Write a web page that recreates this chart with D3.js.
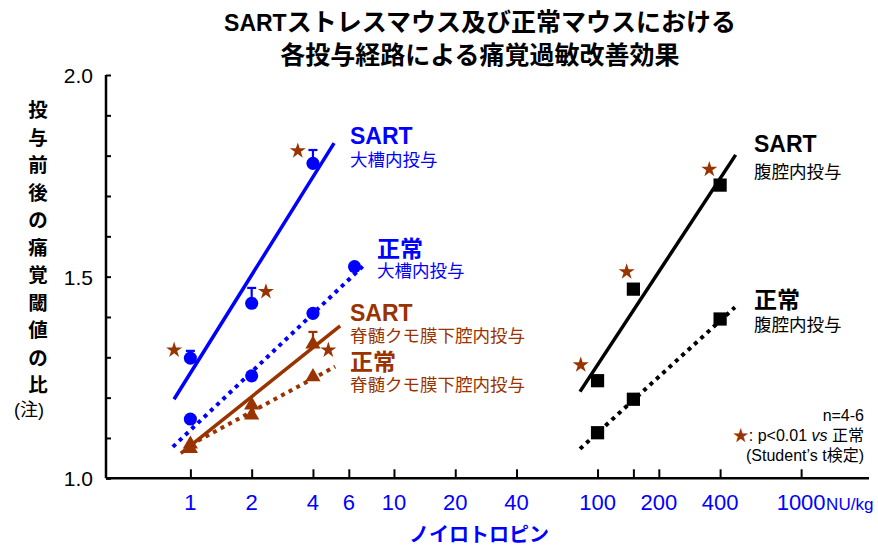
<!DOCTYPE html>
<html>
<head>
<meta charset="utf-8">
<script src="https://cdn.jsdelivr.net/npm/d3@7"></script>
<style>
  html, body { margin: 0; padding: 0; background: #fff; }
  svg { display: block; }
  text { font-family: "Liberation Sans", Arial, "Noto Sans CJK JP", sans-serif; }
</style>
</head>
<body>
<svg id="chart" width="878" height="546"></svg>
<script>
// Dose (NU/kg) ticks on the log axis
const doseTicks = [1, 2, 4, 6, 10, 20, 40, 100, 150, 200, 400, 1000];
const doseTickLabels = ["1", "2", "4", "6", "10", "20", "40", "100", "", "200", "400", "1000"];
// Ratio ticks
const ratioTicks = [1.0, 1.1, 1.2, 1.3, 1.4, 1.5, 1.6, 1.7, 1.8, 1.9, 2.0];
const ratioTickLabels = ["1.0", "", "", "", "", "1.5", "", "", "", "", "2.0"];

// Intracisternal (大槽内投与)
const sartCisDose = [1, 2, 4];
const sartCisValue = [1.298, 1.434, 1.781];
const sartCisErr = [0.018, 0.038, 0.033];
const sartCisFit = [[0.831, 1.196], [5.08, 1.831]];

const normCisDose = [1, 2, 4, 6.4];
const normCisValue = [1.147, 1.254, 1.409, 1.525];
const normCisErr = [0, 0, 0, 0];
const normCisFit = [[0.82, 1.078], [7.21, 1.531]];

// Intrathecal (脊髄クモ膜下腔内投与)
const sartItDose = [1, 2, 4];
const sartItValue = [1.087, 1.184, 1.335];
const sartItErr = [0, 0, 0.028];
const sartItFit = [[0.897, 1.062], [5.44, 1.378]];

const normItDose = [1, 2, 4];
const normItValue = [1.076, 1.159, 1.254];
const normItErr = [0, 0, 0];
const normItFit = [[1.0, 1.083], [5.14, 1.277]];

// Intraperitoneal (腹腔内投与)
const sartIpDose = [100, 150, 400];
const sartIpValue = [1.242, 1.469, 1.727];
const sartIpErr = [0, 0, 0];
const sartIpFit = [[82, 1.215], [477, 1.802]];

const normIpDose = [100, 150, 400];
const normIpValue = [1.113, 1.196, 1.395];
const normIpErr = [0, 0, 0];
const normIpFit = [[82, 1.073], [473, 1.424]];

// Significance stars (p<0.01 vs 正常), placed beside SART points
const starDose = [0.832, 2.35, 3.37, 4.76, 82.7, 139, 354];
const starValue = [1.318, 1.463, 1.812, 1.318, 1.281, 1.512, 1.766];

const BLUE = "#0000ff", BROWN = "#993300", BLACK = "#000000";

const svg = d3.select("#chart");
const x = d3.scaleLog().domain([0.385, 2155]).range([106, 869]);
const y = d3.scaleLinear().domain([1, 2]).range([478.3, 75]);

// Title
const t1 = svg.append("text").attr("x", 480).attr("y", 31).attr("text-anchor", "middle")
  .attr("font-size", 25).attr("font-weight", "bold");
t1.append("tspan").attr("font-size", 23).text("SART");
t1.append("tspan").text("ストレスマウス及び正常マウスにおける");
svg.append("text").attr("x", 480).attr("y", 64).attr("text-anchor", "middle")
  .attr("font-size", 25).attr("font-weight", "bold")
  .text("各投与経路による痛覚過敏改善効果");

// Y axis
const yAxis = d3.axisRight(y).tickValues(ratioTicks).tickSize(5).tickFormat("");
const gy = svg.append("g").attr("transform", "translate(106,0)").call(yAxis);
gy.select(".domain").attr("stroke", BLACK).attr("stroke-width", 2.5).attr("d", `M0,${y(2)}V${y(1)}`);
gy.selectAll(".tick line").attr("stroke", BLACK).attr("stroke-width", 2);
ratioTicks.forEach((t, i) => {
  if (!ratioTickLabels[i]) return;
  svg.append("text").attr("x", 93).attr("y", y(t) + 8).attr("text-anchor", "end")
    .attr("font-size", 21).attr("fill", BLACK).text(ratioTickLabels[i]);
});

// X axis
const xAxis = d3.axisTop(x).tickValues(doseTicks).tickSize(9).tickFormat("");
const gx = svg.append("g").attr("transform", `translate(0,${y(1)})`).call(xAxis);
gx.select(".domain").attr("stroke", BLACK).attr("stroke-width", 2.5).attr("d", `M${x.range()[0]},0H${x.range()[1]}`);
gx.selectAll(".tick line").attr("stroke", BLACK).attr("stroke-width", 2);
doseTicks.forEach((t, i) => {
  if (!doseTickLabels[i]) return;
  svg.append("text").attr("x", x(t)).attr("y", 510).attr("text-anchor", "middle")
    .attr("font-size", 22).attr("fill", BLUE).text(doseTickLabels[i]);
});
svg.append("text").attr("x", x(1000) + 25).attr("y", 510).attr("text-anchor", "start")
  .attr("font-size", 17).attr("fill", BLUE).text("NU/kg");
svg.append("text").attr("x", 479).attr("y", 542).attr("text-anchor", "middle")
  .attr("font-size", 20).attr("font-weight", "bold").attr("fill", BLUE).text("ノイロトロピン");

// Vertical y-axis title
const yTitle = ["投", "与", "前", "後", "の", "痛", "覚", "閾", "値", "の", "比"];
yTitle.forEach((c, i) => {
  svg.append("text").attr("x", 38).attr("y", 117 + i * 27.5).attr("text-anchor", "middle")
    .attr("font-size", 19.5).attr("font-weight", "bold").text(c);
});
svg.append("text").attr("x", 29).attr("y", 416).attr("text-anchor", "middle")
  .attr("font-size", 18).text("(注)");

// Series drawing
function drawSeries(opt) {
  const g = svg.append("g");
  g.append("path")
    .attr("d", d3.line().x(d => x(d[0])).y(d => y(d[1]))(opt.fit))
    .attr("fill", "none").attr("stroke", opt.color)
    .attr("stroke-width", opt.dotted ? 4 : 3.5)
    .attr("stroke-dasharray", opt.dotted ? "4,4.6" : null);
  const pts = opt.dose.map((d, i) => ({ d, v: opt.value[i], e: opt.err[i] }));
  // upper error bars
  pts.filter(p => p.e > 0).forEach(p => {
    g.append("line").attr("x1", x(p.d)).attr("x2", x(p.d)).attr("y1", y(p.v)).attr("y2", y(p.v + p.e))
      .attr("stroke", opt.color).attr("stroke-width", 2.2);
    g.append("line").attr("x1", x(p.d) - 4.5).attr("x2", x(p.d) + 4.5).attr("y1", y(p.v + p.e)).attr("y2", y(p.v + p.e))
      .attr("stroke", opt.color).attr("stroke-width", 2.2);
  });
  const sym = d3.symbol().type(opt.symbol).size(opt.size);
  g.selectAll(null).data(pts).join("path")
    .attr("d", sym)
    .attr("transform", p => `translate(${x(p.d)},${y(p.v) + (opt.symbol === d3.symbolTriangle ? 1 : 0)})`)
    .attr("fill", opt.color);
}

drawSeries({ dose: sartCisDose, value: sartCisValue, err: sartCisErr, fit: sartCisFit, color: BLUE, dotted: false, symbol: d3.symbolCircle, size: 135 });
drawSeries({ dose: normCisDose, value: normCisValue, err: normCisErr, fit: normCisFit, color: BLUE, dotted: true, symbol: d3.symbolCircle, size: 135 });
drawSeries({ dose: sartItDose, value: sartItValue, err: sartItErr, fit: sartItFit, color: BROWN, dotted: false, symbol: d3.symbolTriangle, size: 100 });
drawSeries({ dose: normItDose, value: normItValue, err: normItErr, fit: normItFit, color: BROWN, dotted: true, symbol: d3.symbolTriangle, size: 100 });
drawSeries({ dose: sartIpDose, value: sartIpValue, err: sartIpErr, fit: sartIpFit, color: BLACK, dotted: false, symbol: d3.symbolSquare, size: 175 });
drawSeries({ dose: normIpDose, value: normIpValue, err: normIpErr, fit: normIpFit, color: BLACK, dotted: true, symbol: d3.symbolSquare, size: 175 });

// Stars
const star = d3.symbol().type(d3.symbolStar).size(80);
svg.append("g").selectAll("path").data(starDose.map((d, i) => [d, starValue[i]])).join("path")
  .attr("d", star).attr("fill", BROWN)
  .attr("transform", d => `translate(${x(d[0])},${y(d[1])})`);

// Series labels
function seriesLabel(xp, y1, y2, head, sub, color) {
  svg.append("text").attr("x", xp).attr("y", y1).attr("font-size", 23).attr("font-weight", "bold")
    .attr("fill", color).text(head);
  svg.append("text").attr("x", xp).attr("y", y2).attr("font-size", 17.5).attr("fill", color).text(sub);
}
seriesLabel(350, 144, 166, "SART", "大槽内投与", BLUE);
seriesLabel(377, 257, 277, "正常", "大槽内投与", BLUE);
seriesLabel(350, 320.5, 342, "SART", "脊髄クモ膜下腔内投与", BROWN);
seriesLabel(350, 370, 391, "正常", "脊髄クモ膜下腔内投与", BROWN);
seriesLabel(754, 152, 178, "SART", "腹腔内投与", BLACK);
seriesLabel(754, 308, 331, "正常", "腹腔内投与", BLACK);

// Note block
svg.append("text").attr("x", 864).attr("y", 421).attr("text-anchor", "end").attr("font-size", 16).text("n=4-6");
const note = svg.append("text").attr("x", 864).attr("y", 441).attr("text-anchor", "end").attr("font-size", 16);
note.append("tspan").attr("fill", BROWN).text("★");
note.append("tspan").text(": p<0.01 ");
note.append("tspan").attr("font-style", "italic").text("vs");
note.append("tspan").text(" 正常");
svg.append("text").attr("x", 864).attr("y", 461).attr("text-anchor", "end").attr("font-size", 16).text("(Student’s t検定)");
</script>
</body>
</html>
